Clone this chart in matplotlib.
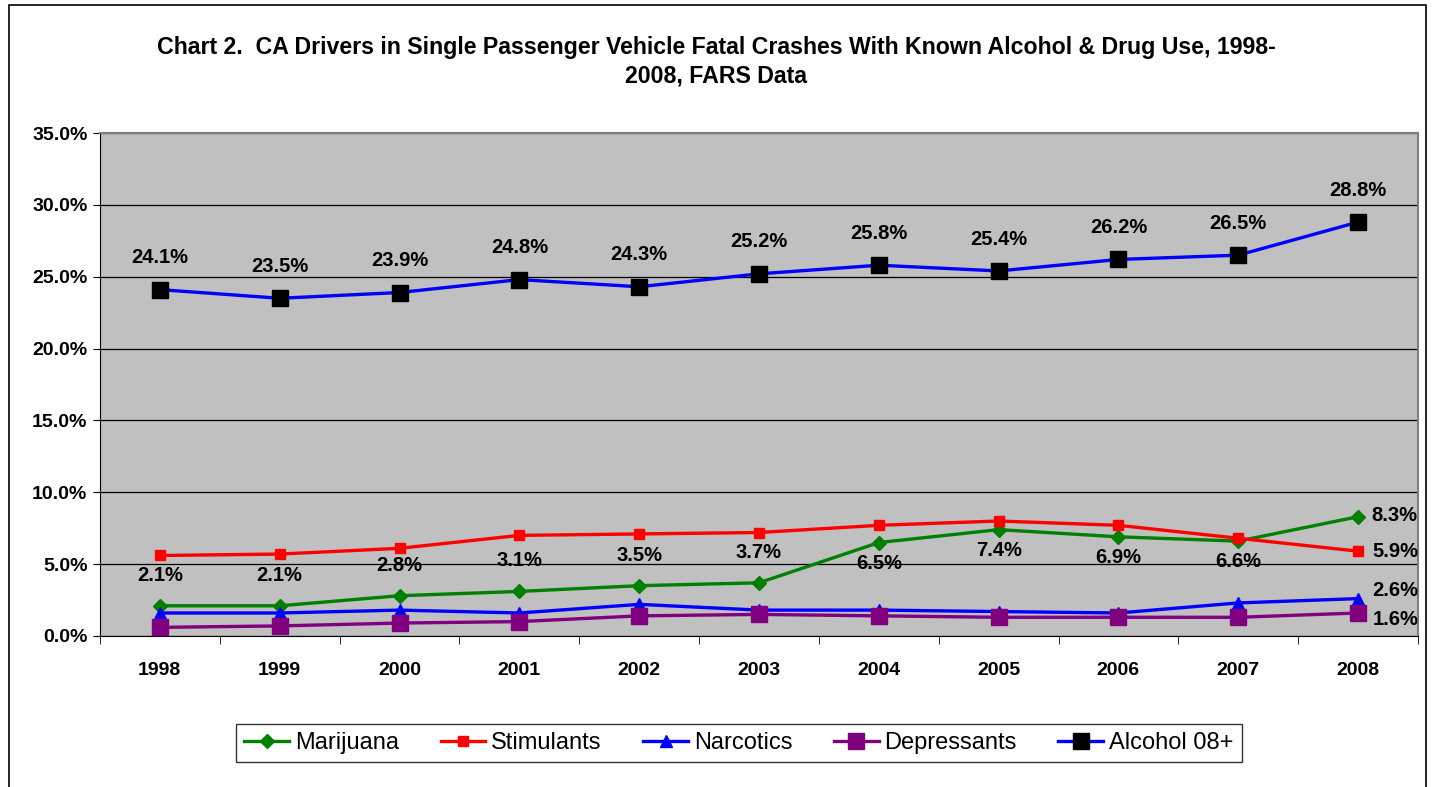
import matplotlib.pyplot as plt
import numpy as np
from matplotlib.ticker import PercentFormatter

plt.rcParams['font.family'] = ['Liberation Sans', 'DejaVu Sans']

years = ['1998', '1999', '2000', '2001', '2002', '2003', '2004', '2005', '2006', '2007', '2008']
marijuana = [2.1, 2.1, 2.8, 3.1, 3.5, 3.7, 6.5, 7.4, 6.9, 6.6, 8.3]
stimulants = [5.6, 5.7, 6.1, 7.0, 7.1, 7.2, 7.7, 8.0, 7.7, 6.8, 5.9]
narcotics = [1.6, 1.6, 1.8, 1.6, 2.2, 1.8, 1.8, 1.7, 1.6, 2.3, 2.6]
depressants = [0.6, 0.7, 0.9, 1.0, 1.4, 1.5, 1.4, 1.3, 1.3, 1.3, 1.6]
alcohol = [24.1, 23.5, 23.9, 24.8, 24.3, 25.2, 25.8, 25.4, 26.2, 26.5, 28.8]

x = np.arange(len(years))

fig = plt.figure(figsize=(14.32, 7.87), dpi=100)
ax = fig.add_axes([0.0698, 0.1919, 0.9204, 0.6391])
ax.set_facecolor('#C0C0C0')

ax.plot(x, marijuana, color='#008000', lw=2.4, marker='D', ms=7, label='Marijuana', zorder=3)
ax.plot(x, stimulants, color='#FF0000', lw=2.4, marker='s', ms=7.5, label='Stimulants', zorder=3)
ax.plot(x, narcotics, color='#0000FF', lw=2.4, marker='^', ms=9, label='Narcotics', zorder=3)
ax.plot(x, depressants, color='#800080', lw=2.4, marker='s', ms=11, label='Depressants', zorder=3)
ax.plot(x, alcohol, color='#0000FF', lw=2.4, marker='s', ms=11, mfc='black', mec='black',
        label='Alcohol 08+', zorder=3)

lab = dict(fontsize=14.5, fontweight='bold', ha='center', va='center', zorder=4)
# alcohol labels above
for i, v in enumerate(alcohol):
    ax.annotate(f'{v:.1f}%', (x[i], v), xytext=(0, 23), textcoords='offset points', **lab)
# marijuana labels: above for early years, below for 2004-2007, right for last
for i, v in enumerate(marijuana):
    if i == len(x) - 1:
        ax.annotate(f'{v:.1f}%', (x[i], v), xytext=(26, 1), textcoords='offset points', **lab)
    elif i >= 6:
        ax.annotate(f'{v:.1f}%', (x[i], v), xytext=(0, -15), textcoords='offset points', **lab)
    else:
        ax.annotate(f'{v:.1f}%', (x[i], v), xytext=(0, 22), textcoords='offset points', **lab)
ax.annotate(f'{stimulants[-1]:.1f}%', (x[-1], stimulants[-1]), xytext=(27, 0),
            textcoords='offset points', **lab)
ax.annotate(f'{narcotics[-1]:.1f}%', (x[-1], narcotics[-1]), xytext=(27, 6),
            textcoords='offset points', **lab)
ax.annotate(f'{depressants[-1]:.1f}%', (x[-1], depressants[-1]), xytext=(27, -5),
            textcoords='offset points', **lab)

ax.set_xlim(-0.5, len(x) - 0.5)
ax.set_ylim(0, 35)
ax.set_yticks(np.arange(0, 36, 5))
ax.yaxis.set_major_formatter(PercentFormatter(decimals=1))
ax.yaxis.grid(True, color='black', lw=0.9)
ax.set_axisbelow(True)
ax.set_xticks(x)
ax.set_xticklabels(years)
ax.set_xticks(np.arange(-0.5, len(x), 1), minor=True)
ax.tick_params(axis='x', which='major', length=0, pad=19)
ax.tick_params(axis='x', which='minor', length=6, color='black')
ax.tick_params(axis='y', length=5, direction='out', pad=4)
for t in ax.get_xticklabels() + ax.get_yticklabels():
    t.set_fontweight('bold')
    t.set_fontsize(14)
for sp in ['top', 'right']:
    ax.spines[sp].set_color('#808080')
    ax.spines[sp].set_linewidth(1.5)
ax.spines['left'].set_color('black')
ax.spines['bottom'].set_color('black')

fig.text(0.5, 0.922, 'Chart 2.  CA Drivers in Single Passenger Vehicle Fatal Crashes With Known Alcohol & Drug Use, 1998-\n2008, FARS Data',
         ha='center', va='center', fontsize=16.7, fontweight='bold', linespacing=1.3)

leg = fig.legend(loc='center', bbox_to_anchor=(0.516, 0.056), ncol=5, fontsize=17,
                 frameon=True, fancybox=False, edgecolor='black', handlelength=1.9,
                 handletextpad=0.25, columnspacing=1.75, borderpad=0.35)
leg.get_frame().set_linewidth(1.0)

fig.patches.append(plt.Rectangle((0.006, -0.01), 0.99, 1.004, transform=fig.transFigure,
                                 fill=False, edgecolor='black', lw=1.2))

fig.savefig('out.png', dpi=100)
